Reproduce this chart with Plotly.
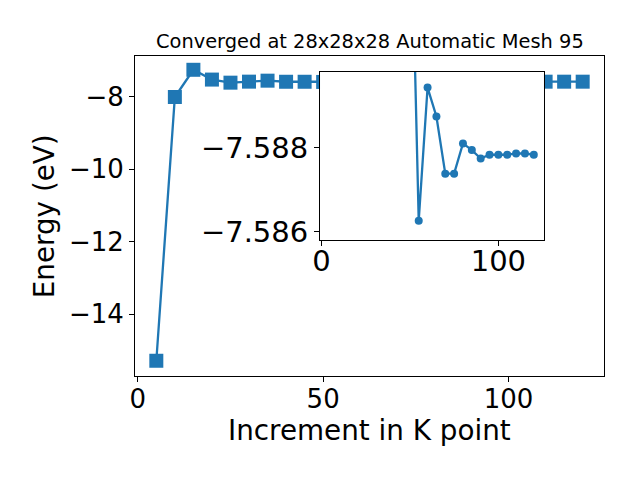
import plotly.graph_objects as go

kpoints = [5, 10, 15, 20, 25, 30, 35, 40, 45, 50, 55, 60, 65, 70, 75, 80, 85, 90, 95, 100, 105, 110, 115, 120]
energy = [-15.28, -8.01, -7.26, -7.53, -7.615, -7.587, -7.56, -7.59, -7.59, -7.595,
          -7.58626, -7.58943, -7.58874, -7.58738, -7.58738, -7.58810, -7.58794, -7.58774,
          -7.58783, -7.58783, -7.58783, -7.58786, -7.58786, -7.58783]

# inset shows the converged tail (from 50 on)
inset_start = 9
inset_kpoints = kpoints[inset_start:]
inset_energy = energy[inset_start:]

title = "Converged at 28x28x28 Automatic Mesh 95"
xlabel = "Increment in K point"
ylabel = "Energy (eV)"
main_yticks = [-8, -10, -12, -14]
main_xticks = [0, 50, 100]
inset_yticks = [-7.588, -7.586]
inset_xticks = [0, 100]

blue = "#1f77b4"
font = "DejaVu Sans"

fig = go.Figure()
fig.add_trace(go.Scatter(x=kpoints, y=energy, mode="lines+markers",
                         line=dict(color=blue, width=2.3),
                         marker=dict(symbol="square", size=14, color=blue),
                         xaxis="x", yaxis="y", showlegend=False))
fig.add_trace(go.Scatter(x=inset_kpoints, y=inset_energy, mode="lines+markers",
                         line=dict(color=blue, width=2.3),
                         marker=dict(symbol="circle", size=8, color=blue),
                         xaxis="x2", yaxis="y2", showlegend=False))


def axis_style(size):
    return dict(showline=True, linecolor="black", linewidth=1, mirror=True,
                ticks="outside", ticklen=5, tickwidth=1, tickcolor="black",
                showgrid=False, zeroline=False, automargin=False,
                tickfont=dict(family=font, size=size, color="black"))


# the page adds an 8px body margin, so margins are offset accordingly
fig.update_layout(
    width=640, height=480,
    margin=dict(l=127, r=44, t=48, b=112, autoexpand=False),
    paper_bgcolor="white", plot_bgcolor="white",
    font=dict(family=font, color="black"),
    xaxis=dict(range=[-0.75, 125.75], tickvals=main_xticks, ticklabelstandoff=-5,
               **axis_style(26)),
    yaxis=dict(range=[-15.70, -6.88], tickvals=main_yticks, **axis_style(26)),
    xaxis2=dict(domain=[0.3945, 0.872], anchor="y2", range=[-0.75, 125.75],
                tickvals=inset_xticks, ticklabelstandoff=-10, **axis_style(29)),
    yaxis2=dict(domain=[0.425, 0.950], anchor="x2", range=[-7.5858, -7.5898],
                tickvals=inset_yticks, tickformat=".3f", **axis_style(29)),
    annotations=[
        dict(text=title, xref="paper", yref="paper", x=0.5, y=1.044,
             xanchor="center", yanchor="middle", showarrow=False,
             font=dict(family=font, size=19.4, color="black")),
        dict(text=xlabel, xref="paper", yref="paper", x=0.5, y=-0.1688,
             xanchor="center", yanchor="middle", showarrow=False,
             font=dict(family=font, size=27.8, color="black")),
        dict(text=ylabel, xref="paper", yref="paper", x=-0.1935, y=0.5,
             xanchor="center", yanchor="middle", showarrow=False, textangle=-90,
             font=dict(family=font, size=27.8, color="black")),
    ],
)

fig.write_html("out.html")
